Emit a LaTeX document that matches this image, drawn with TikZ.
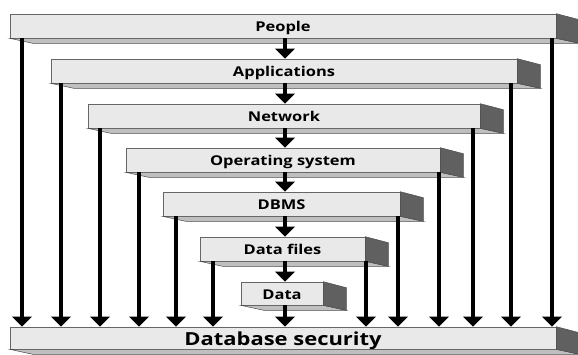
\documentclass[tikz,border=0pt]{standalone}
\usepackage{fontspec}
\setmainfont{Open Sans}
\usetikzlibrary{arrows.meta,calc}
\begin{document}
\begin{tikzpicture}[x=1pt,y=-1pt,
  face/.style={draw=gray!80!black, line width=0.6pt, fill=gray!17, inner sep=0pt,
    font=\bfseries\fontsize{13.5}{15}\selectfont},
  bigface/.style={face, font=\bfseries\fontsize{18}{20}\selectfont},
  sideface/.style={fill=gray!75!black, draw=gray!60!black, line width=0.5pt},
  underface/.style={fill=gray!50, draw=gray!60!black, line width=0.5pt},
  arr/.style={line width=4.5pt, -{Triangle[width=19pt,length=10pt]}}
]
\useasboundingbox (0,0) rectangle (578,354);
\newcommand\mkbox[8][face]{%
  \node[#1, minimum width=#5pt-#3pt, minimum height=#6pt-#4pt] (#2) at ({(#3+#5)/2},{(#4+#6)/2}) {\smash{\raisebox{-#8pt}{\scalebox{1.22}[1]{#7}}}};
  \filldraw[underface] (#2.south west) -- (#2.south east) -- ++(23,5) -- ($(#2.south west)+(23,5)$) -- cycle;
  \filldraw[sideface] (#2.north east) -- ++(23,6) -- ($(#2.south east)+(23,5)$) -- (#2.south east) -- cycle;
}
\mkbox{p}{10}{14}{556}{38}{People}{5.5}
\mkbox{a}{51}{59}{517}{83}{Applications}{5.5}
\mkbox{n}{88}{104}{480}{128}{Network}{5.5}
\mkbox{o}{126}{148}{440}{172}{Operating system}{5.5}
\mkbox{d}{163}{192}{400}{216}{DBMS}{5.5}
\mkbox{f}{200}{237}{365}{261}{Data files}{5.5}
\mkbox{t}{241}{282}{323}{305}{Data}{5.5}
\mkbox[bigface]{s}{10}{327}{556}{349}{Database security}{7}
% centre arrows
\foreach \u/\v in {p/a,a/n,n/o,o/d,d/f,f/t,t/s}{
  \draw[arr] (285,0 |- \u.south) -- (285,0 |- \v.north);
}
% side arrows
\foreach \u/\xl/\xr in {p/22/552,a/61/511,n/100/473,o/139/439,d/176/398,f/213/366}{
  \draw[arr] (\xl,0 |- \u.south) -- (\xl,0 |- s.north);
  \draw[arr] (\xr,0 |- \u.south) -- (\xr,0 |- s.north);
}
\end{tikzpicture}
\end{document}
